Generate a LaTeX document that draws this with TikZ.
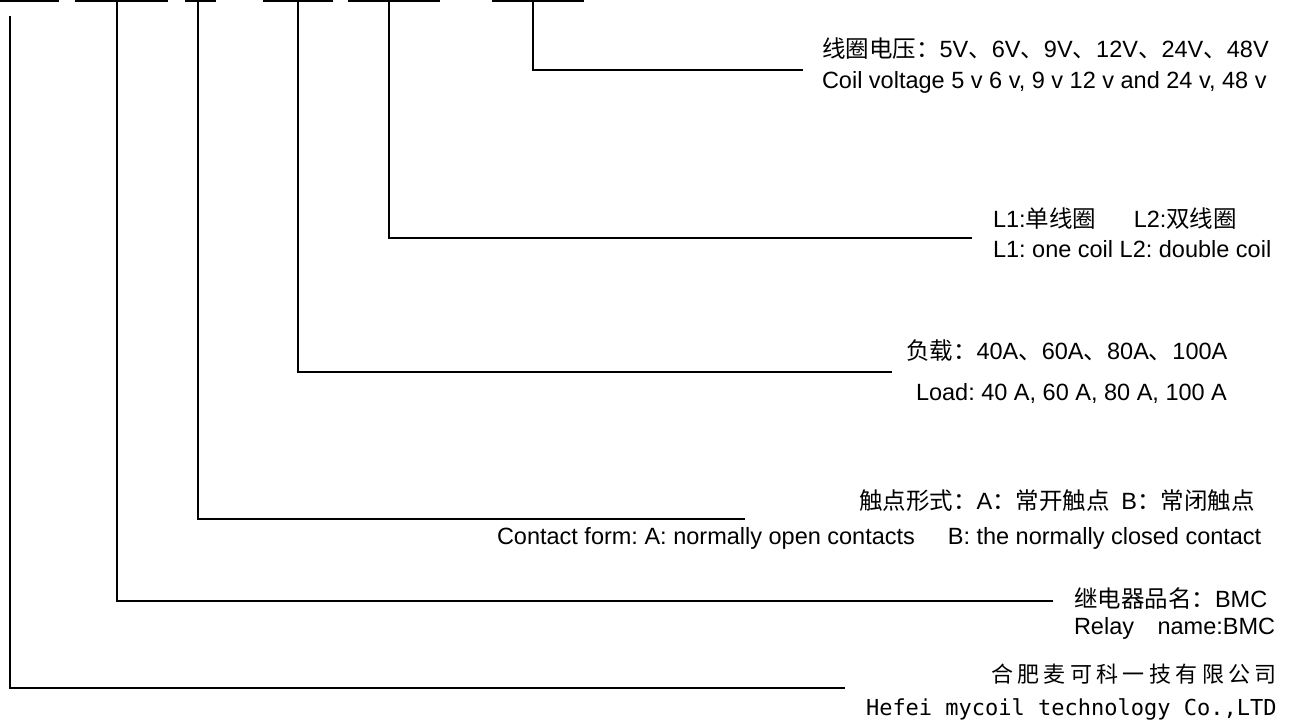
\documentclass[tikz,border=0pt]{standalone}
\usepackage{fontspec}
\setmainfont{Liberation Sans}
\newfontfamily\cjk{Noto Sans CJK SC}
\newfontfamily\cjkwide[LetterSpace=20]{Noto Sans CJK SC}
\newfontfamily\mono{DejaVu Sans Mono}
\newcommand\zw[1]{{\cjk #1}}
\frenchspacing

\begin{document}
\begin{tikzpicture}[x=0.5pt,y=-0.5pt,line width=1pt]
  \tikzstyle{desc}=[inner sep=0pt,anchor=base west,font=\fontsize{11.75}{14}\selectfont]
  \useasboundingbox (0,0) rectangle (1295,723);

  % code fields along the top
  \draw (0,1) -- (59,1);
  \draw (75,1) -- (168,1);
  \draw (185,1) -- (216,1);
  \draw (263,1) -- (333,1);
  \draw (348,1) -- (440,1);
  \draw (492,1) -- (584,1);

  \coordinate (firm top) at (10,16);
  \coordinate (name top) at (117,1);
  \coordinate (form top) at (198,1);
  \coordinate (load top) at (298,1);
  \coordinate (coil top) at (389,1);
  \coordinate (volt top) at (533,1);

  \coordinate (volt end) at (803,70);
  \coordinate (coil end) at (972,238);
  \coordinate (load end) at (892,372);
  \coordinate (form end) at (745,519);
  \coordinate (name end) at (1053,601);
  \coordinate (firm end) at (845,688);

  % labels
  \node [desc] (volt cn) at (821,57) {\zw{线圈电压：}5V\zw{、}6V\zw{、}9V\zw{、}12V\zw{、}24V\zw{、}48V};
  \node [desc] (volt en) at (821,88) {Coil voltage 5 v 6 v, 9 v 12 v and 24 v, 48 v};
  \node [desc] (coil cn) at (992,227) {L1:\zw{单线圈}\hspace{1.6em}L2:\zw{双线圈}};
  \node [desc] (coil en) at (992,257) {L1: one coil L2: double coil};
  \node [desc] (load cn) at (905,359) {\zw{负载：}40A\zw{、}60A\zw{、}80A\zw{、}100A};
  \node [desc] (load en) at (915,400) {Load: 40 A, 60 A, 80 A, 100 A};
  \node [desc] (form cn) at (858,509) {\zw{触点形式：}A\zw{：常开触点}\hspace{0.5em}B\zw{：常闭触点}};
  \node [desc] (form en) at (496,544) {Contact form: A: normally open contacts\hspace{1.4em}B: the normally closed contact};
  \node [desc] (name cn) at (1073,607) {\zw{继电器品名：}BMC};
  \node [desc] (name en) at (1073,634) {Relay\hspace{1em}name:BMC};
  \node [desc,font=\cjkwide\fontsize{11}{13}\selectfont] (firm cn) at (990,682) {合肥麦可科一技有限公司};
  \node [desc,font=\mono\fontsize{11}{13}\selectfont] (firm en) at (865,715) {Hefei mycoil technology Co.,LTD};

  % leader lines
  \draw (volt top) |- (volt end);
  \draw (coil top) |- (coil end);
  \draw (load top) |- (load end);
  \draw (form top) |- (form end);
  \draw (name top) |- (name end);
  \draw (firm top) |- (firm end);
\end{tikzpicture}
\end{document}
